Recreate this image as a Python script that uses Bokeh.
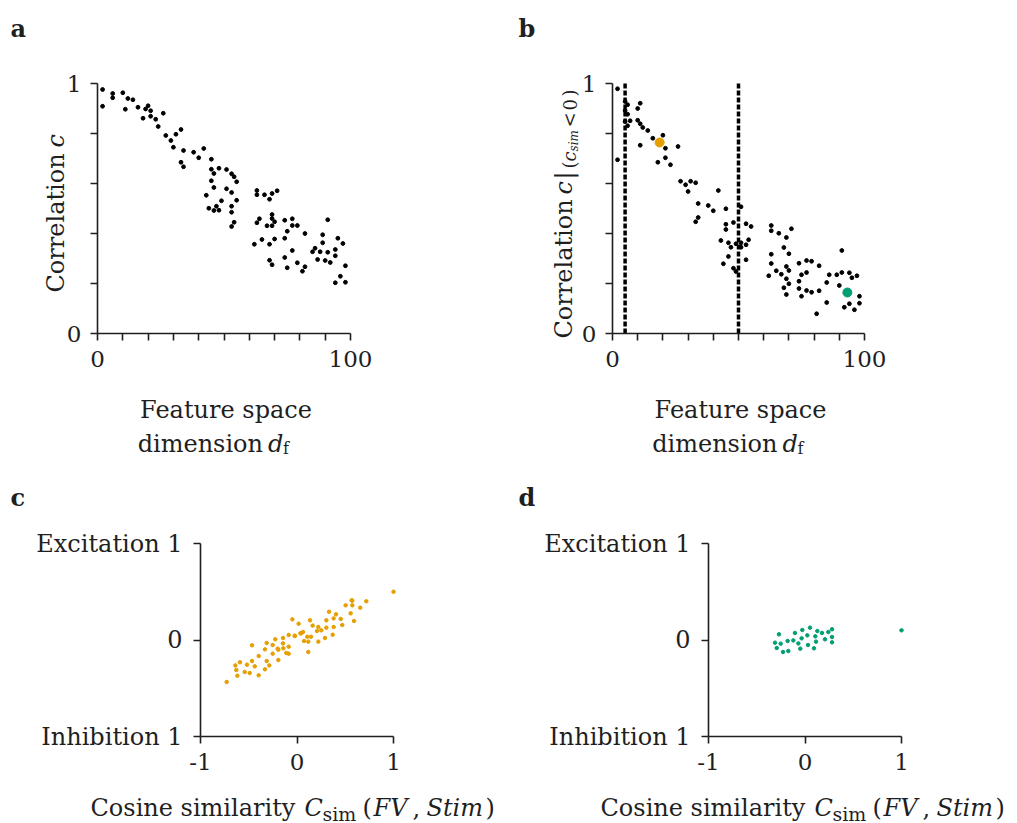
import math
from bokeh.plotting import figure
from bokeh.models import Range1d, FixedTicker, CustomJSTickFormatter, Label
from bokeh.layouts import column, row
from bokeh.embed import file_html
from bokeh.resources import INLINE

FONT = "DejaVu Serif"
INK = "#1f1f1f"
ORANGE = "#E69F00"
GREEN = "#009E73"

# ---------------- data ----------------
# panel a: correlation vs feature space dimension
a_dim = [2, 2, 6, 6, 10, 11, 12, 14, 16, 18,
         19, 20, 21, 21, 23, 24, 26, 27, 29, 30,
         31, 33, 34, 33, 34, 38, 40, 42, 45, 45,
         46, 48, 51, 45, 46, 43, 44, 46, 47, 48,
         49, 53, 54, 55, 51, 53, 55, 53, 53, 54,
         53, 63, 63, 66, 68, 69, 71, 63, 64, 67,
         69, 69, 70, 69, 62, 65, 68, 70, 74, 77,
         77, 79, 75, 82, 74, 77, 68, 69, 74, 75,
         79, 81, 82, 86, 85, 88, 89, 89, 91, 91,
         87, 90, 92, 94, 94, 95, 97, 98, 96, 94,
         98]
a_corr = [0.976, 0.909, 0.960, 0.943, 0.963, 0.897, 0.940, 0.935, 0.905, 0.861,
          0.898, 0.911, 0.891, 0.869, 0.857, 0.828, 0.881, 0.792, 0.772, 0.745,
          0.797, 0.816, 0.732, 0.685, 0.667, 0.725, 0.703, 0.740, 0.697, 0.657,
          0.640, 0.661, 0.656, 0.611, 0.584, 0.553, 0.501, 0.492, 0.509, 0.493,
          0.531, 0.639, 0.627, 0.607, 0.579, 0.564, 0.533, 0.509, 0.485, 0.445,
          0.428, 0.572, 0.555, 0.555, 0.537, 0.560, 0.571, 0.443, 0.459, 0.431,
          0.476, 0.460, 0.447, 0.431, 0.357, 0.376, 0.357, 0.378, 0.453, 0.459,
          0.432, 0.432, 0.409, 0.400, 0.381, 0.332, 0.293, 0.275, 0.304, 0.263,
          0.283, 0.249, 0.267, 0.341, 0.327, 0.327, 0.395, 0.363, 0.455, 0.325,
          0.296, 0.292, 0.284, 0.336, 0.311, 0.381, 0.360, 0.271, 0.229, 0.203,
          0.205]

# panel b: correlation restricted to c_sim < 0
b_dim = [2, 2, 5, 6, 5, 6, 5, 7, 6, 10,
         11, 10, 11, 12, 14, 11, 16, 20, 21, 18,
         21, 23, 26, 27, 29, 30, 31, 33, 34, 34,
         33, 38, 40, 42, 45, 45, 45, 48, 43, 46,
         47, 49, 46, 44, 48, 49, 51, 51, 51, 53,
         55, 53, 54, 53, 63, 63, 66, 71, 69, 68,
         70, 63, 63, 62, 65, 67, 69, 70, 69, 70,
         68, 69, 74, 77, 79, 82, 75, 77, 74, 74,
         75, 77, 79, 82, 81, 85, 86, 89, 91, 91,
         90, 85, 94, 95, 97, 92, 94, 96, 98, 98]
b_corr = [0.979, 0.695, 0.928, 0.915, 0.892, 0.877, 0.848, 0.851, 0.831, 0.900,
          0.921, 0.853, 0.839, 0.824, 0.812, 0.753, 0.781, 0.793, 0.741, 0.685,
          0.703, 0.675, 0.748, 0.609, 0.595, 0.568, 0.609, 0.603, 0.520, 0.464,
          0.447, 0.512, 0.491, 0.572, 0.499, 0.437, 0.416, 0.444, 0.372, 0.363,
          0.345, 0.359, 0.308, 0.279, 0.261, 0.248, 0.507, 0.363, 0.345, 0.439,
          0.428, 0.355, 0.375, 0.295, 0.432, 0.411, 0.401, 0.419, 0.384, 0.344,
          0.319, 0.317, 0.280, 0.231, 0.251, 0.237, 0.268, 0.252, 0.219, 0.199,
          0.183, 0.156, 0.281, 0.292, 0.289, 0.271, 0.235, 0.244, 0.209, 0.180,
          0.149, 0.172, 0.165, 0.171, 0.079, 0.204, 0.235, 0.235, 0.244, 0.332,
          0.192, 0.124, 0.243, 0.223, 0.231, 0.105, 0.119, 0.095, 0.149, 0.121]
b_cut_dims = [5, 50]
b_high_dim = [18.7]
b_high_corr = [0.764]
b_low_dim = [93.2]
b_low_corr = [0.164]

# panel c: high-correlation example (orange)
c_sim = [-0.729, 1.000, 0.718, 0.655, 0.573, 0.573, 0.556, 0.591, 0.453, 0.404,
         0.380, 0.304, 0.304, 0.290, 0.332, 0.221, 0.221, 0.207, 0.135, 0.162,
         0.145, 0.107, 0.117, 0.117, 0.062, 0.073, 0.042, 0.017, -0.021, -0.048,
         -0.086, -0.086, -0.086, -0.145, -0.145, -0.111, -0.193, -0.193, -0.225, -0.252,
         -0.252, -0.287, -0.314, -0.332, -0.314, -0.332, -0.397, -0.438, -0.466, -0.466,
         -0.397, -0.490, -0.542, -0.518, -0.591, -0.629, -0.618, -0.639, 0.469, 0.380,
         -0.200, -0.142, -0.024, 0.035, 0.504, 0.566, 0.370, 0.252]
c_resp = [-0.435, 0.500, 0.401, 0.335, 0.408, 0.359, 0.276, 0.197, 0.218, 0.266,
          0.135, 0.204, 0.128, 0.021, 0.293, 0.135, -0.017, 0.093, 0.204, 0.149,
          0.034, 0.034, -0.017, -0.124, 0.083, -0.010, 0.070, 0.169, 0.041, 0.214,
          0.052, -0.069, -0.142, 0.021, -0.035, -0.135, -0.100, -0.207, 0.007, -0.052,
          -0.142, -0.263, -0.031, -0.097, -0.218, -0.304, -0.166, -0.273, -0.055, -0.218,
          -0.366, -0.342, -0.331, -0.256, -0.231, -0.311, -0.370, -0.263, 0.155, 0.224,
          -0.090, -0.086, 0.045, 0.069, 0.359, 0.411, 0.055, 0.100]

# panel d: low-correlation example (green)
d_sim = [1.000, 0.052, -0.028, -0.104, 0.128, 0.176, 0.242, 0.280, 0.024, 0.107,
         -0.035, -0.121, -0.180, -0.069, 0.031, 0.207, 0.114, 0.280, 0.280, -0.252,
         -0.311, -0.293, -0.228, -0.173, -0.049, 0.093, -0.270]
d_resp = [0.100, 0.128, 0.104, 0.073, 0.093, 0.073, 0.083, 0.111, 0.048, 0.038,
          0.017, -0.004, -0.010, -0.035, -0.052, 0.007, -0.017, 0.031, -0.024, -0.038,
          -0.028, -0.083, -0.124, -0.114, -0.090, -0.086, 0.059]

dim_ticks = [0, 10, 20, 30, 40, 50, 60, 70, 80, 90, 100]
corr_ticks = [0, 0.2, 0.4, 0.6, 0.8, 1]
sim_ticks = [-1, 0, 1]


# ---------------- helpers ----------------
class Panel:
    """A figure whose frame fills the whole canvas; axes sit at fixed data locations."""

    def __init__(self, left, top, w, h, xlim, ylim, xpx, ypx):
        self.left, self.top, self.w, self.h = left, top, w, h
        sx = (xpx[1] - xpx[0]) / (xlim[1] - xlim[0])
        sy = (ypx[0] - ypx[1]) / (ylim[1] - ylim[0])
        x0 = xpx[0] - left
        y0 = ypx[0] - top
        xr = Range1d(xlim[0] - x0 / sx, xlim[0] + (w - x0) / sx)
        yr = Range1d(ylim[0] - (h - y0) / sy, ylim[0] + y0 / sy)
        p = figure(width=w, height=h, x_range=xr, y_range=yr,
                   output_backend="svg", toolbar_location=None,
                   min_border=0, min_border_left=0, min_border_right=0,
                   min_border_top=0, min_border_bottom=0)
        p.outline_line_color = None
        p.xgrid.visible = False
        p.ygrid.visible = False
        p.background_fill_color = "white"
        p.border_fill_color = "white"
        p.xaxis.fixed_location = ylim[0]
        p.yaxis.fixed_location = xlim[0]
        p.xaxis.bounds = xlim
        p.yaxis.bounds = ylim
        for ax in (p.xaxis[0], p.yaxis[0]):
            ax.axis_line_width = 1.6
            ax.axis_line_color = INK
            ax.major_tick_line_color = INK
            ax.major_tick_line_width = 1.6
            ax.major_tick_out = 7
            ax.major_tick_in = 0
            ax.minor_tick_line_color = None
            ax.major_label_text_font = FONT
            ax.major_label_text_font_size = "23px"
            ax.major_label_text_color = INK
            ax.major_label_standoff = 10
        p.yaxis.major_label_standoff = 9
        self.p = p

    def lab(self, X, Y, text, size=24, style="normal", rotate=False, align="left"):
        self.p.add_layout(Label(x=X - self.left, y=self.top + self.h - Y,
                                x_units="screen", y_units="screen", text=text,
                                text_font=FONT, text_font_size=f"{size}px",
                                text_font_style=style, text_color=INK,
                                angle=math.pi / 2 if rotate else 0.0,
                                text_align=align, text_baseline="alphabetic"))


ends_fmt = CustomJSTickFormatter(code="""
    if (Math.abs(tick) < 1e-6) return '0';
    if (Math.abs(tick - 1) < 1e-6) return '1';
    return '';""")
dim_fmt = CustomJSTickFormatter(code="""
    if (Math.abs(tick) < 1e-6) return '0';
    if (Math.abs(tick - 100) < 1e-6) return '100';
    return '';""")
sim_fmt = CustomJSTickFormatter(code="return String(Math.round(tick));")
resp_fmt = CustomJSTickFormatter(code="""
    if (tick > 0.5) return 'Excitation 1';
    if (tick < -0.5) return 'Inhibition 1';
    return '0';""")


def corr_panel(left, width, axis_x, right_x):
    P = Panel(left, 0, width, 470, (0, 100), (0, 1), (axis_x, right_x), (333, 83))
    P.p.xaxis.ticker = FixedTicker(ticks=dim_ticks)
    P.p.yaxis.ticker = FixedTicker(ticks=corr_ticks)
    P.p.xaxis.formatter = dim_fmt
    P.p.yaxis.formatter = ends_fmt
    cx = (axis_x + right_x) / 2 + 2
    P.lab(cx, 409, "Feature space", align="center")
    P.lab(cx + 37, 443, "dimension", align="right")
    P.lab(cx + 42, 443, "d", style="italic")
    P.lab(cx + 57, 448, "f", size=16)
    return P


# ---------------- panel a ----------------
A = corr_panel(0, 508, 97, 350)
A.p.scatter(a_dim, a_corr, size=3.8, color="black")
A.lab(10, 28, "a", style="bold")
A.lab(55, 292, "Correlation", rotate=True)
A.lab(55, 147, "c", style="italic", rotate=True)

# ---------------- panel b ----------------
B = corr_panel(508, 509, 612, 864)
B.p.segment(x0=b_cut_dims, y0=[0] * len(b_cut_dims), x1=b_cut_dims, y1=[1] * len(b_cut_dims),
            line_color="black", line_width=3.5, line_dash="5 2")
B.p.scatter(b_dim, b_corr, size=3.8, color="black")
B.p.scatter(b_high_dim, b_high_corr, size=9, color=ORANGE)
B.p.scatter(b_low_dim, b_low_corr, size=9, color=GREEN)
B.lab(518, 28, "b", style="bold")
B.lab(563, 338, "Correlation", rotate=True)
B.lab(563, 194, "c", style="italic", rotate=True)
B.lab(563, 179, "|", rotate=True)
B.lab(569, 168, "(", size=18, rotate=True)
B.lab(569, 161, "c", size=18, style="italic", rotate=True)
B.lab(573, 151, "sim", size=12, style="italic", rotate=True)
B.lab(569, 127, "<", size=18, rotate=True)
B.lab(569, 110, "0", size=18, rotate=True)
B.lab(569, 96, ")", size=18, rotate=True)


# ---------------- panels c, d ----------------
def sim_panel(left, width, axis_x, xs, ys, color, letter, s0):
    P = Panel(left, 470, width, 353, (-1, 1), (-1, 1), (axis_x, axis_x + 193), (736, 543))
    P.p.xaxis.ticker = FixedTicker(ticks=sim_ticks)
    P.p.yaxis.ticker = FixedTicker(ticks=sim_ticks)
    P.p.xaxis.formatter = sim_fmt
    P.p.yaxis.formatter = resp_fmt
    P.p.yaxis.major_label_text_font_size = "24px"
    P.p.yaxis.major_label_standoff = 11
    P.p.scatter(xs, ys, size=3.5, color=color)
    P.lab(left + 10, 497, letter, style="bold")
    P.lab(s0, 807, "Cosine similarity")
    P.lab(s0 + 214, 807, "C", style="italic")
    P.lab(s0 + 232, 813, "sim", size=19)
    P.lab(s0 + 272, 807, "(")
    P.lab(s0 + 283, 807, "FV", style="italic")
    P.lab(s0 + 322, 807, ",")
    P.lab(s0 + 336, 807, "Stim", style="italic")
    P.lab(s0 + 395, 807, ")")
    return P


C = sim_panel(0, 508, 200, c_sim, c_resp, ORANGE, "c", 90)
D = sim_panel(508, 509, 708, d_sim, d_resp, GREEN, "d", 600)

layout = column(row(A.p, B.p), row(C.p, D.p))
open("out.html", "w").write(file_html(layout, INLINE))
